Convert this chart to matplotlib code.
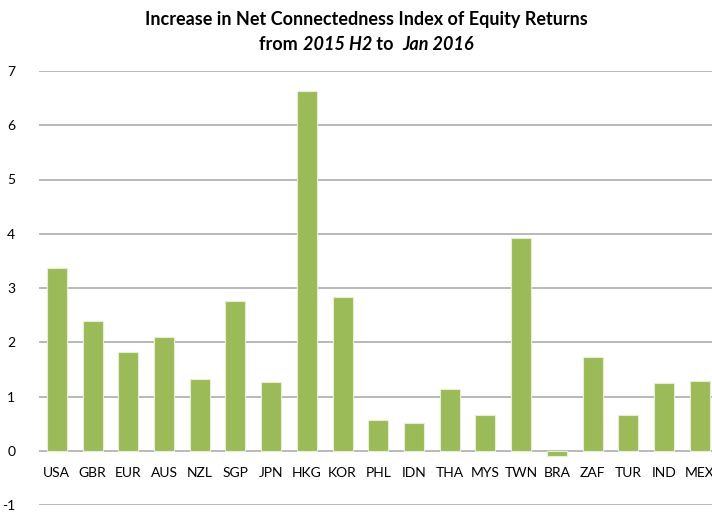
import matplotlib
matplotlib.use('Agg')
import matplotlib.pyplot as plt
import numpy as np

countries = ['USA', 'GBR', 'EUR', 'AUS', 'NZL', 'SGP', 'JPN', 'HKG', 'KOR', 'PHL',
             'IDN', 'THA', 'MYS', 'TWN', 'BRA', 'ZAF', 'TUR', 'IND', 'MEX']
increase = [3.37, 2.39, 1.82, 2.10, 1.33, 2.76, 1.26, 6.64, 2.83, 0.57,
            0.51, 1.14, 0.65, 3.93, -0.10, 1.73, 0.66, 1.24, 1.29]
yticks = [-1, 0, 1, 2, 3, 4, 5, 6, 7]

title_line1 = 'Increase in Net Connectedness Index of Equity Returns'
# second line mixes bold and bold italic pieces
title_line2 = [('from ', 'normal'), ('2015 H2', 'italic'), (' to  ', 'normal'), ('Jan 2016', 'italic')]

plt.rcParams['font.family'] = ['Lato', 'DejaVu Sans']


def main():
    fig = plt.figure(figsize=(7.12, 5.15), dpi=100)
    ax = fig.add_axes([39 / 712, 10 / 515, 678.5 / 712, 434 / 515])

    x = np.arange(len(countries))
    ax.bar(x, increase, width=0.56, color='#9BBB59', edgecolor='#e6efd6', linewidth=0.8, zorder=3)

    ax.set_xlim(-0.5, len(countries) - 0.5)
    ax.set_ylim(-1, 7)
    ax.set_yticks(yticks)
    ax.set_yticklabels([str(v) for v in yticks], fontsize=10, color='#000000')
    ax.yaxis.grid(True, color='#a6a6a6', linewidth=1.1, zorder=0)
    ax.tick_params(axis='y', length=0, pad=17)

    ax.set_xticks(x)
    ax.set_xticklabels(countries, fontsize=10)
    ax.spines['bottom'].set_position(('data', 0))
    ax.tick_params(axis='x', length=0, pad=12)
    for s in ['top', 'right', 'left', 'bottom']:
        ax.spines[s].set_visible(False)

    fig.text(0.515, 1 - 19 / 515, title_line1, ha='center', va='center',
             fontsize=13, fontweight='bold')

    # second title line built from pieces
    fig.canvas.draw()
    renderer = fig.canvas.get_renderer()
    pieces = []
    total = 0
    for txt, style in title_line2:
        t = fig.text(0, 1 - 44 / 515, txt, ha='left', va='center', fontsize=13,
                     fontweight='bold', fontstyle=style)
        w = t.get_window_extent(renderer).width
        pieces.append((t, w))
        total += w
    start = 0.515 * 712 - total / 2
    for t, w in pieces:
        t.set_x(start / 712)
        start += w

    fig.savefig('out.png', dpi=100)


if __name__ == '__main__':
    main()
